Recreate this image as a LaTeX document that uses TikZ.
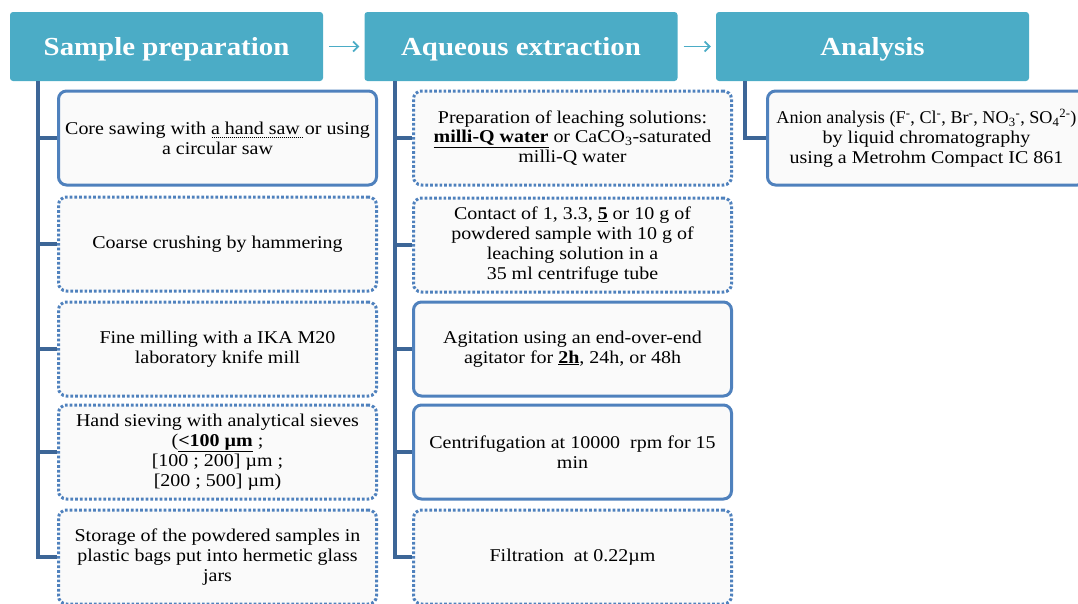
\documentclass[tikz,border=0pt]{standalone}
\usepackage{fontspec}
\setmainfont[FakeStretch=1.11]{Liberation Serif}
\usepackage{graphicx}
\usepackage{tikz}
\usetikzlibrary{arrows.meta}

\definecolor{hdrteal}{HTML}{4BACC6}
\definecolor{boxblue}{HTML}{4F81BD}
\definecolor{trunkblue}{HTML}{3D6697}

% dotted underline
\newcommand{\dotul}[1]{\leavevmode\setbox0\hbox{#1}\rlap{\copy0}%
  \raisebox{-3pt}{\hbox to \wd0{\leaders\hbox to 2pt{\hss\rule{1pt}{0.7pt}\hss}\hfill}}}

\tikzset{
  hdr/.style={fill=hdrteal, rounded corners=3pt, minimum width=313pt, minimum height=69pt,
    text depth=0pt, text=white, font=\bfseries\fontsize{26}{30}\selectfont},
  solidbox/.style={draw=boxblue, line width=3pt, fill=black!2, rounded corners=8pt,
    minimum width=318pt, minimum height=94pt, align=center, font=\fontsize{18}{19.8}\selectfont},
  dotbox/.style={solidbox, dash pattern=on 2.7pt off 2pt},
  trunk/.style={draw=trunkblue, line width=3.5pt},
  hdrarrow/.style={draw=hdrteal, line width=1.8pt, -{Straight Barb[length=5pt,width=10pt]},
    shorten <=6pt, shorten >=5pt}
}

\begin{document}
\begin{tikzpicture}[x=1pt,y=-1pt]
  \useasboundingbox (0,0) rectangle (1078,603);

  % headers
  \node[hdr] (sp) at (166.5,46.5) {Sample preparation};
  \node[hdr] (ae) at (521,46.5) {Aqueous extraction};
  \node[hdr] (an) at (872.5,46.5) {Analysis};
  \draw[hdrarrow] (sp) -- (ae);
  \draw[hdrarrow] (ae) -- (an);

  % sample preparation
  \node[solidbox] (s1) at (217.5,138) {Core sawing with \dotul{a hand saw }or using\\a circular saw};
  \node[dotbox] (s2) at (217.5,244) {Coarse crushing by hammering};
  \node[dotbox] (s3) at (217.5,349) {Fine milling with a IKA M20\\laboratory knife mill};
  \node[dotbox] (s4) at (217.5,452) {Hand sieving with analytical sieves\\(\underline{\textbf{<100 µm}} ;\\{[}100 ; 200] µm ;\\{[}200 ; 500] µm)};
  \node[dotbox] (s5) at (217.5,557) {Storage of the powdered samples in\\plastic bags put into hermetic glass\\jars};

  % aqueous extraction
  \node[dotbox] (m1) at (572.5,138) {Preparation of leaching solutions:\\\underline{\textbf{milli-Q water}} or CaCO\textsubscript{3}-saturated\\milli-Q water};
  \node[dotbox] (m2) at (572.5,245) {Contact of 1, 3.3, \underline{\textbf{5}} or 10 g of\\powdered sample with 10 g of\\leaching solution in a\\35 ml centrifuge tube};
  \node[solidbox] (m3) at (572.5,349) {Agitation using an end-over-end\\agitator for \underline{\textbf{2h}}, 24h, or 48h};
  \node[solidbox] (m4) at (572.5,452) {Centrifugation at 10000\ \ rpm for 15\\min};
  \node[dotbox] (m5) at (572.5,557) {Filtration\ \ at 0.22µm};

  % analysis
  \node[solidbox, anchor=west, inner xsep=4pt] (a1) at (766,138) {\scalebox{0.91}[1]{Anion analysis (F\textsuperscript{-}, Cl\textsuperscript{-}, Br\textsuperscript{-}, NO\textsubscript{3}\textsuperscript{-}, SO\textsubscript{4}\textsuperscript{2-})}\\by liquid chromatography\\using a Metrohm Compact IC 861};

  % trunks
  \coordinate (spt) at (38,81);
  \coordinate (aet) at (395,81);
  \coordinate (ant) at (745,81);
  \foreach \i in {1,...,5} {
    \draw[trunk] (spt) |- (s\i.west);
    \draw[trunk] (aet) |- (m\i.west);
  }
  \draw[trunk] (ant) |- (a1.west);
\end{tikzpicture}
\end{document}
